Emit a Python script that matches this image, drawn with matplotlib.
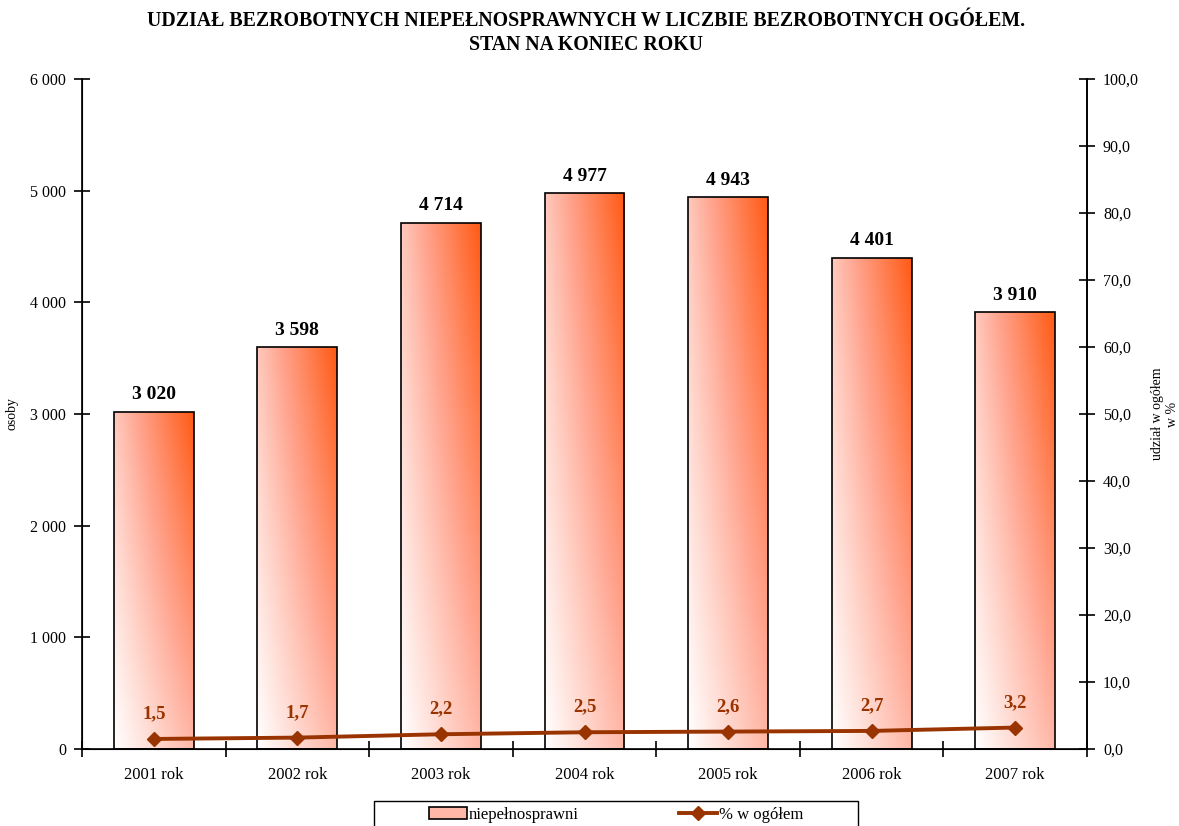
import numpy as np
import matplotlib
matplotlib.use("Agg")
import matplotlib.pyplot as plt
from matplotlib.colors import LinearSegmentedColormap
from matplotlib.ticker import FuncFormatter, FixedLocator
from matplotlib.patches import Patch, Rectangle
from matplotlib.lines import Line2D

plt.rcParams['font.family'] = ['Liberation Serif', 'DejaVu Serif']

# dane
lata = ["2001 rok", "2002 rok", "2003 rok", "2004 rok", "2005 rok", "2006 rok", "2007 rok"]
niepelnosprawni = [3020, 3598, 4714, 4977, 4943, 4401, 3910]
procent = [1.5, 1.7, 2.2, 2.5, 2.6, 2.7, 3.2]

kolor_linii = "#993300"
gradient = LinearSegmentedColormap.from_list("grad", ["#FFFFFF", "#FFA590", "#FF5A14"])

fig = plt.figure(figsize=(11.79, 8.26), dpi=100)
ax = fig.add_axes([82 / 1179, 1 - 749 / 826, (1087 - 82) / 1179, (749 - 79) / 826])
ax2 = ax.twinx()

x = np.arange(len(lata))
szer = 0.557
bary = ax.bar(x, niepelnosprawni, width=szer, facecolor="none", edgecolor="black", linewidth=1.2, zorder=3)

# gradient w każdym słupku (lewy dół jasny, prawy góra pomarańczowy)
xx, yy = np.meshgrid(np.linspace(0, 1, 120), np.linspace(0, 1, 200))
t = xx * (0.4 + 0.6 * yy) + 0.3 * yy * (1 - xx)
for b in bary:
    x0, h = b.get_x(), b.get_height()
    im = ax.imshow(t, cmap=gradient, vmin=0, vmax=1, origin="lower", aspect="auto",
                   extent=(x0, x0 + b.get_width(), 0, h), zorder=2, interpolation="bilinear")
    im.set_clip_path(b)

for xi, v in zip(x, niepelnosprawni):
    ax.annotate(f"{v:,}".replace(",", " "), (xi, v), xytext=(0, 6), textcoords="offset points",
                ha="center", va="bottom", fontsize=14, fontweight="bold")

ax.set_xlim(-0.5, len(lata) - 0.5)
ax.set_ylim(0, 6000)
ax.set_yticks(np.arange(0, 6001, 1000))
ax.yaxis.set_major_formatter(FuncFormatter(lambda v, p: f"{int(v):,}".replace(",", " ")))
ax.set_xticks(x)
ax.set_xticklabels(lata)
ax.xaxis.set_minor_locator(FixedLocator(np.arange(-0.5, len(lata), 1)))
ax.tick_params(axis="x", which="major", length=0, pad=13, labelsize=12)
ax.tick_params(axis="x", which="minor", direction="inout", length=11, width=1.2)
ax.tick_params(axis="y", direction="inout", length=11, width=1.2, labelsize=11.5, pad=6)
ax.set_ylabel("osoby", fontsize=10, labelpad=8)
ax.spines["top"].set_visible(False)
for s in ["left", "bottom", "right"]:
    ax.spines[s].set_linewidth(1.2)

ax2.plot(x, procent, color=kolor_linii, linewidth=2.8, marker="D", markersize=7.5, zorder=5)
for xi, v in zip(x, procent):
    ax2.annotate(f"{v:.1f}".replace(".", ","), (xi, v), xytext=(0, 12), textcoords="offset points",
                 ha="center", va="bottom", fontsize=13.5, fontweight="bold", color=kolor_linii)
ax2.set_ylim(0, 100)
ax2.set_yticks(np.arange(0, 101, 10))
ax2.yaxis.set_major_formatter(FuncFormatter(lambda v, p: f"{v:.1f}".replace(".", ",")))
ax2.tick_params(axis="y", direction="inout", length=11, width=1.2, labelsize=11.5, pad=6)
ax2.set_ylabel("udział w ogółem\nw %", fontsize=10, labelpad=9)
ax2.spines["top"].set_visible(False)
ax2.spines["right"].set_linewidth(1.2)

fig.text(0.497, 1 - 33 / 826, "UDZIAŁ BEZROBOTNYCH NIEPEŁNOSPRAWNYCH W LICZBIE BEZROBOTNYCH OGÓŁEM.\nSTAN NA KONIEC ROKU",
         ha="center", va="center", fontsize=14.3, fontweight="bold", linespacing=1.3)

# legenda na dole (ramka ucięta przez krawędź rysunku)
uchwyty = [Patch(facecolor="#FFB8A8", edgecolor="black", linewidth=1.2),
           Line2D([0], [0], color=kolor_linii, linewidth=2.8, marker="D", markersize=7.5)]
leg = fig.legend(uchwyty, ["niepełnosprawni", "% w ogółem"], loc="center",
                 bbox_to_anchor=(616 / 1179, 1 - 815 / 826), ncol=2, fontsize=12,
                 frameon=False, columnspacing=6.0, handlelength=2.3, handletextpad=0.1)
fig.patches.append(Rectangle((374 / 1179, -0.01), (858 - 374) / 1179, (826 - 801) / 826 + 0.01,
                             transform=fig.transFigure, fill=False, edgecolor="black", linewidth=1.0))

fig.savefig("out.png", dpi=100)
